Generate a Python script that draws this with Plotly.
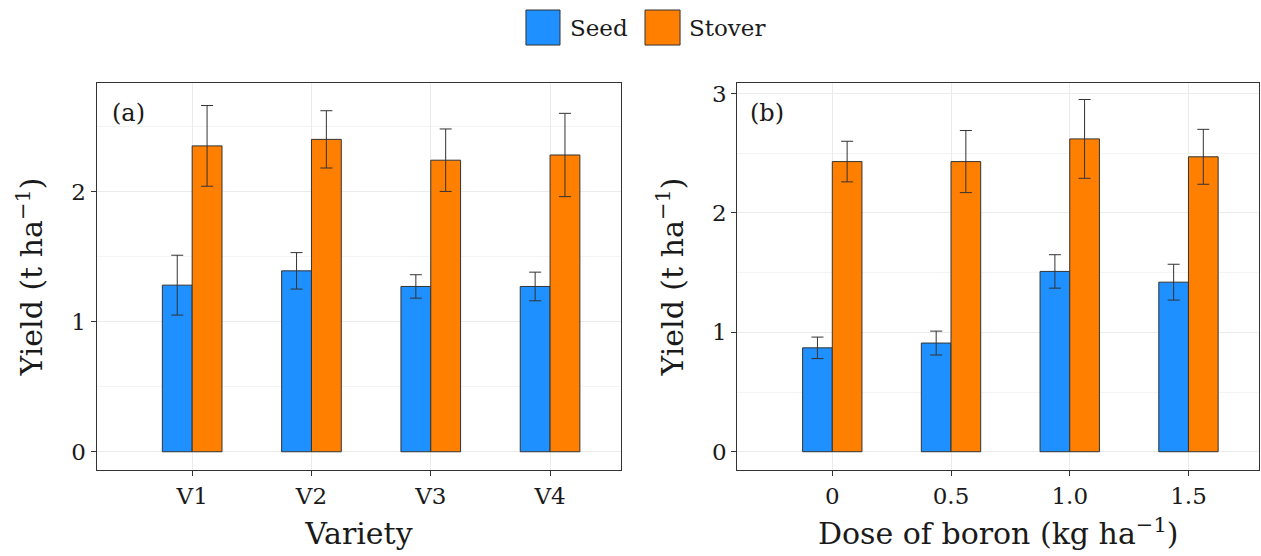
import plotly.graph_objects as go

# ---- data ----
varieties = ["V1", "V2", "V3", "V4"]
seed_var = [1.28, 1.39, 1.27, 1.27]
seed_var_err = [0.23, 0.14, 0.09, 0.11]
stover_var = [2.35, 2.40, 2.24, 2.28]
stover_var_err = [0.31, 0.22, 0.24, 0.32]

doses = ["0", "0.5", "1.0", "1.5"]
seed_dose = [0.87, 0.91, 1.51, 1.42]
seed_dose_err = [0.09, 0.10, 0.14, 0.15]
stover_dose = [2.43, 2.43, 2.62, 2.47]
stover_dose_err = [0.17, 0.26, 0.33, 0.23]

series_names = ["Seed", "Stover"]
series_colors = ["#1E90FF", "#FF7F00"]

FONT = "DejaVu Serif"
EDGE = "#333333"
TXT = "#1A1A1A"
TITLE_SIZE = 30

fig = go.Figure()

panels = [
    (varieties, [seed_var, stover_var], [seed_var_err, stover_var_err], "x", "y"),
    (doses, [seed_dose, stover_dose], [seed_dose_err, stover_dose_err], "x2", "y2"),
]
for cats, vals, errs, xa, ya in panels:
    for name, color, v, e in zip(series_names, series_colors, vals, errs):
        fig.add_trace(go.Bar(
            x=cats, y=v, name=name, showlegend=False,
            marker=dict(color=color, line=dict(color=EDGE, width=1)),
            error_y=dict(type="data", array=e, color=EDGE, thickness=1, width=6),
            xaxis=xa, yaxis=ya,
        ))

ydom = [0.1547, 0.8507]
common_x = dict(
    type="category", showline=True, linecolor=EDGE, linewidth=1.3, mirror=True,
    ticks="outside", ticklen=5, tickcolor=EDGE, tickwidth=1.2,
    showgrid=True, gridcolor="#EBEBEB", gridwidth=1.3, zeroline=False,
    tickfont=dict(family=FONT, size=23, color=TXT), automargin=False,
    range=[-0.8, 3.595],
)
common_y = dict(
    showline=True, linecolor=EDGE, linewidth=1.3, mirror=True,
    ticks="outside", ticklen=5, tickcolor=EDGE, tickwidth=1.2,
    showgrid=True, gridcolor="#EBEBEB", gridwidth=1.3, zeroline=False,
    minor=dict(dtick=0.5, showgrid=True, gridcolor="#F4F4F4", gridwidth=1.1, ticks=""),
    tickfont=dict(family=FONT, size=23, color=TXT), automargin=False,
    dtick=1, domain=ydom,
)

ytitle = "Yield (t ha<sup>−1</sup>)"
tfont = dict(family=FONT, size=TITLE_SIZE, color=TXT)
fig.update_layout(
    width=1261, height=556, template="none",
    paper_bgcolor="white", plot_bgcolor="white",
    margin=dict(l=0, r=0, t=0, b=0, pad=0),
    barmode="group", bargap=0.5, bargroupgap=0,
    font=dict(family=FONT, color=TXT),
    xaxis=dict(common_x, domain=[0.0767, 0.4925], anchor="y",
               title=dict(text="Variety", font=tfont, standoff=15)),
    yaxis=dict(common_y, anchor="x", range=[-0.14, 2.833],
               title=dict(text=ytitle, font=tfont, standoff=19)),
    xaxis2=dict(common_x, domain=[0.5847, 0.9985], anchor="y2",
                title=dict(text="Dose of boron (kg ha<sup>−1</sup>)", font=tfont, standoff=15)),
    yaxis2=dict(common_y, anchor="x2", range=[-0.153, 3.088],
                title=dict(text=ytitle, font=tfont, standoff=19)),
)

# panel labels
fig.add_annotation(text="(a)", xref="x domain", yref="y domain", x=0.025, y=0.922,
                   xanchor="left", yanchor="middle", showarrow=False,
                   font=dict(family=FONT, size=24, color=TXT))
fig.add_annotation(text="(b)", xref="x2 domain", yref="y2 domain", x=0.02, y=0.922,
                   xanchor="left", yanchor="middle", showarrow=False,
                   font=dict(family=FONT, size=24, color=TXT))

# legend (manual, large square keys)
legend_keys = [(0.4171, 0.4441, 0.4504), (0.5115, 0.5393, 0.5448)]
for name, color, (x0, x1, xt) in zip(series_names, series_colors, legend_keys):
    fig.add_shape(type="rect", xref="paper", yref="paper", x0=x0, x1=x1, y0=0.919, y1=0.982,
                  fillcolor=color, line=dict(color=EDGE, width=1))
    fig.add_annotation(text=name, xref="paper", yref="paper", x=xt, y=0.9505,
                       xanchor="left", yanchor="middle", showarrow=False,
                       font=dict(family=FONT, size=23, color=TXT))

fig.write_html(
    "out.html",
    config={"displayModeBar": False},
    post_script="document.body.style.margin='0';document.body.style.overflow='hidden';",
)
